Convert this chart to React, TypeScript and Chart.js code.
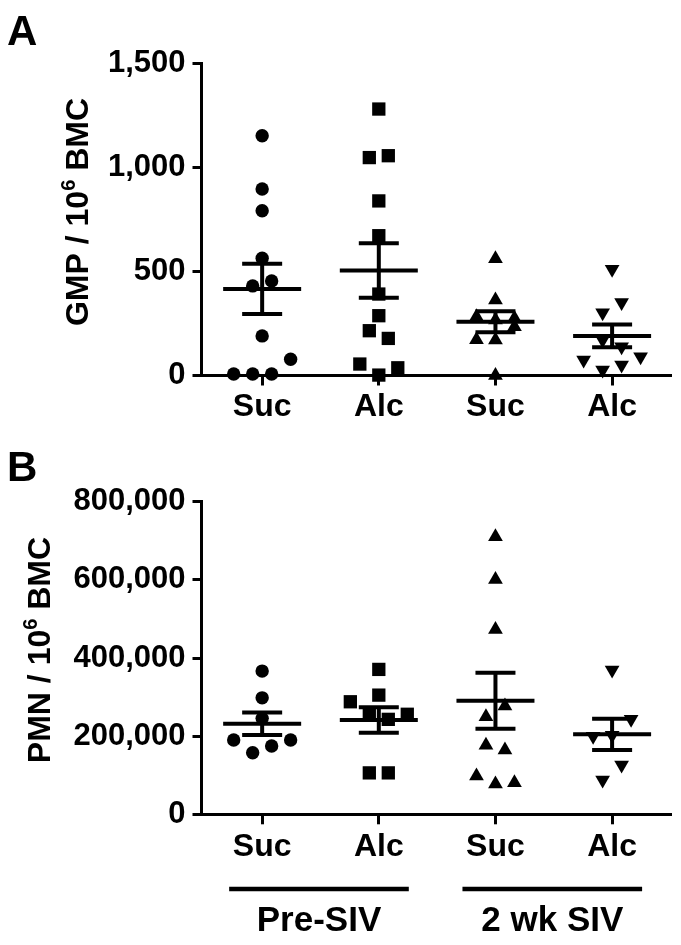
import React, { useEffect, useRef } from 'react';
import { Chart, registerables } from 'chart.js';

Chart.register(...registerables);

// ---- Data ----
const categories = ['Suc', 'Alc', 'Suc', 'Alc'];
const groupLabels = ['Pre-SIV', '2 wk SIV'];

const gmpSucPre = [1151, 895, 791, 563, 430, 454, 190, 7, 7, 7, 78];
const gmpAlcPre = [1279, 1046, 1055, 838, 671, 391, 287, 215, 178, 55, 2, 37];
const gmpSucSiv = [560, 362, 282, 266, 275, 172, 170, 234, 0];
const gmpAlcSiv = [510, 301, 350, 170, 138, 74, 26, 50, 90];

const pmnSucPre = [366500, 298000, 245500, 190000, 157500, 174700, 190000];
const pmnAlcPre = [370800, 305000, 288000, 255000, 243000, 256000, 106000, 106000];
const pmnSucSiv = [710000, 601000, 473000, 249600, 277000, 176500, 164500, 98000, 77500, 81000];
const pmnAlcSiv = [369000, 200000, 202000, 243000, 88000, 126000];

const yTicksA = [0, 500, 1000, 1500];
const yTicksB = [0, 200000, 400000, 600000, 800000];

const markerStyles = ['circle', 'rect', 'triangle', 'triangle'];
const markerRotations = [0, 0, 0, 180];
const markerRadii = [6.7, 9.4, 8.5, 8.5];

// ---- Layout / style constants ----
const FONT = '"Liberation Sans", Arial, Helvetica, sans-serif';
const W = 681;
const AXIS_LEFT = 201.5;
const AXIS_RIGHT = 672;
const X_MIN = -0.52;
const X_MAX = 3.51;
const PLOT_H = 312.6;
const BIN_PX = 18;
const SLOT_PX = 19;

const mean = (a: number[]) => a.reduce((s, v) => s + v, 0) / a.length;
const sem = (a: number[]) => {
  const m = mean(a);
  const sd = Math.sqrt(a.reduce((s, v) => s + (v - m) * (v - m), 0) / (a.length - 1));
  return sd / Math.sqrt(a.length);
};

// Prism-like column scatter: points closer than a marker height share a row
function swarmSlots(values: number[], unitsPerPx: number): number[] {
  const order = values.map((_, i) => i).sort((a, b) => values[a] - values[b]);
  const slots = new Array(values.length).fill(0);
  let k = 0;
  while (k < order.length) {
    const start = values[order[k]];
    const members: number[] = [];
    while (k < order.length && values[order[k]] - start < BIN_PX * unitsPerPx) {
      members.push(order[k]);
      k++;
    }
    members.sort((a, b) => a - b);
    members.forEach((idx, j) => {
      slots[idx] = j - (members.length - 1) / 2;
    });
  }
  return slots;
}

interface PanelCfg {
  groups: number[][];
  yMax: number;
  yTicks: number[];
  titleMain: string;
  titleSup: string;
  titleRest: string;
  titleX: number;
  titleY: number;
  letter: string;
  letterY: number;
  plotTop: number;
  plotBottom: number;
  height: number;
  xPad: number;
  showGroups: boolean;
}

function drawYTitle(ctx: CanvasRenderingContext2D, cfg: PanelCfg) {
  const size = 32;
  const f1 = `bold ${size}px ${FONT}`;
  const f2 = `bold ${Math.round(size * 0.62)}px ${FONT}`;
  ctx.save();
  ctx.translate(cfg.titleX, cfg.titleY);
  ctx.rotate(-Math.PI / 2);
  ctx.fillStyle = '#000';
  ctx.textBaseline = 'alphabetic';
  ctx.textAlign = 'left';
  ctx.font = f1;
  const w1 = ctx.measureText(cfg.titleMain).width;
  const w3 = ctx.measureText(cfg.titleRest).width;
  ctx.font = f2;
  const w2 = ctx.measureText(cfg.titleSup).width;
  let x = -(w1 + w2 + w3) / 2;
  ctx.font = f1;
  ctx.fillText(cfg.titleMain, x, 0);
  x += w1;
  ctx.font = f2;
  ctx.fillText(cfg.titleSup, x, -size * 0.4);
  x += w2;
  ctx.font = f1;
  ctx.fillText(cfg.titleRest, x, 0);
  ctx.restore();
}

function Panel({ cfg, top }: { cfg: PanelCfg; top: number }) {
  const ref = useRef<HTMLCanvasElement | null>(null);

  useEffect(() => {
    const canvas = ref.current;
    if (!canvas) return;
    const unitsPerPx = cfg.yMax / PLOT_H;
    const pxPerX = (AXIS_RIGHT - AXIS_LEFT) / (X_MAX - X_MIN);

    const datasets = cfg.groups.map((vals, i) => {
      const slots = swarmSlots(vals, unitsPerPx);
      return {
        label: categories[i],
        data: vals.map((v, j) => ({ x: i + (slots[j] * SLOT_PX) / pxPerX, y: v })),
        showLine: false,
        clip: false,
        pointStyle: markerStyles[i],
        pointRotation: markerRotations[i],
        pointRadius: markerRadii[i],
        pointHoverRadius: markerRadii[i],
        pointBackgroundColor: '#000',
        pointBorderColor: '#000',
        pointBorderWidth: 0,
      };
    });

    const overlay = {
      id: 'overlay',
      afterDatasetsDraw(chart: any) {
        const ctx: CanvasRenderingContext2D = chart.ctx;
        const xs = chart.scales.x;
        const ys = chart.scales.y;
        ctx.save();
        ctx.strokeStyle = '#000';
        ctx.lineWidth = 4;
        ctx.lineCap = 'butt';
        cfg.groups.forEach((vals, i) => {
          const m = mean(vals);
          const e = sem(vals);
          const px = xs.getPixelForValue(i);
          const pm = ys.getPixelForValue(m);
          const pu = ys.getPixelForValue(m + e);
          const pl = ys.getPixelForValue(m - e);
          ctx.beginPath();
          ctx.moveTo(px - 39, pm);
          ctx.lineTo(px + 39, pm);
          ctx.moveTo(px, pu);
          ctx.lineTo(px, pl);
          ctx.moveTo(px - 20, pu);
          ctx.lineTo(px + 20, pu);
          ctx.moveTo(px - 20, pl);
          ctx.lineTo(px + 20, pl);
          ctx.stroke();
        });
        ctx.restore();
      },
      afterDraw(chart: any) {
        const ctx: CanvasRenderingContext2D = chart.ctx;
        drawYTitle(ctx, cfg);
        ctx.save();
        ctx.fillStyle = '#000';
        ctx.font = `bold 42px ${FONT}`;
        ctx.textAlign = 'left';
        ctx.textBaseline = 'alphabetic';
        ctx.fillText(cfg.letter, 7, cfg.letterY);
        if (cfg.showGroups) {
          const xs = chart.scales.x;
          const lineY = 449;
          groupLabels.forEach((lab, g) => {
            const x1 = xs.getPixelForValue(2 * g) - 33;
            const x2 = xs.getPixelForValue(2 * g + 1) + 30;
            ctx.strokeStyle = '#000';
            ctx.lineWidth = 4.5;
            ctx.beginPath();
            ctx.moveTo(x1, lineY);
            ctx.lineTo(x2, lineY);
            ctx.stroke();
            ctx.font = `bold 35px ${FONT}`;
            ctx.textAlign = 'center';
            ctx.textBaseline = 'middle';
            ctx.fillText(lab, (x1 + x2) / 2, 481);
          });
        }
        ctx.restore();
      },
    };

    const chart = new Chart(canvas, {
      type: 'scatter',
      data: { datasets } as any,
      options: {
        responsive: false,
        animation: false,
        devicePixelRatio: 1,
        events: [],
        layout: { padding: { top: cfg.plotTop, right: W - AXIS_RIGHT, left: 0, bottom: 0 } },
        plugins: { legend: { display: false }, tooltip: { enabled: false }, title: { display: false } },
        scales: {
          x: {
            type: 'linear',
            min: X_MIN,
            max: X_MAX,
            afterBuildTicks: (s: any) => {
              s.ticks = categories.map((_, i) => ({ value: i }));
            },
            afterFit: (s: any) => {
              s.height = cfg.height - cfg.plotBottom;
            },
            grid: {
              display: true,
              drawOnChartArea: false,
              drawTicks: true,
              tickLength: 10,
              tickWidth: 3,
              tickColor: '#000',
            },
            border: { display: true, width: 3, color: '#000' },
            ticks: {
              color: '#000',
              font: { family: FONT, size: 32, weight: 'bold' },
              padding: cfg.xPad,
              autoSkip: false,
              maxRotation: 0,
              minRotation: 0,
              callback: (v: any) => categories[Math.round(Number(v))] ?? '',
            },
          },
          y: {
            type: 'linear',
            min: 0,
            max: cfg.yMax,
            afterBuildTicks: (s: any) => {
              s.ticks = cfg.yTicks.map((v) => ({ value: v }));
            },
            afterFit: (s: any) => {
              s.width = AXIS_LEFT;
            },
            grid: {
              display: true,
              drawOnChartArea: false,
              drawTicks: true,
              tickLength: 9,
              tickWidth: 3,
              tickColor: '#000',
            },
            border: { display: true, width: 3, color: '#000' },
            ticks: {
              color: '#000',
              font: { family: FONT, size: 31, weight: 'bold' },
              padding: 7,
              callback: (v: any) => Number(v).toLocaleString('en-US'),
            },
          },
        },
      } as any,
      plugins: [overlay],
    });
    return () => chart.destroy();
  }, []);

  return (
    <canvas
      ref={ref}
      width={W}
      height={cfg.height}
      style={{ position: 'absolute', left: 0, top, width: W, height: cfg.height, display: 'block' }}
    />
  );
}

const panelA: PanelCfg = {
  groups: [gmpSucPre, gmpAlcPre, gmpSucSiv, gmpAlcSiv],
  yMax: 1500,
  yTicks: yTicksA,
  titleMain: 'GMP / 10',
  titleSup: '6',
  titleRest: ' BMC',
  titleX: 87.5,
  titleY: 212,
  letter: 'A',
  letterY: 45,
  plotTop: 63,
  plotBottom: 375.5,
  height: 440,
  xPad: 2,
  showGroups: false,
};

const panelB: PanelCfg = {
  groups: [pmnSucPre, pmnAlcPre, pmnSucSiv, pmnAlcSiv],
  yMax: 800000,
  yTicks: yTicksB,
  titleMain: 'PMN / 10',
  titleSup: '6',
  titleRest: ' BMC',
  titleX: 50,
  titleY: 210,
  letter: 'B',
  letterY: 41,
  plotTop: 61.7,
  plotBottom: 374.3,
  height: 505,
  xPad: 4,
  showGroups: true,
};

export default function App() {
  return (
    <div style={{ position: 'absolute', left: 0, top: 0, width: W, height: 945, background: '#fff' }}>
      <Panel cfg={panelA} top={0} />
      <Panel cfg={panelB} top={440} />
    </div>
  );
}
